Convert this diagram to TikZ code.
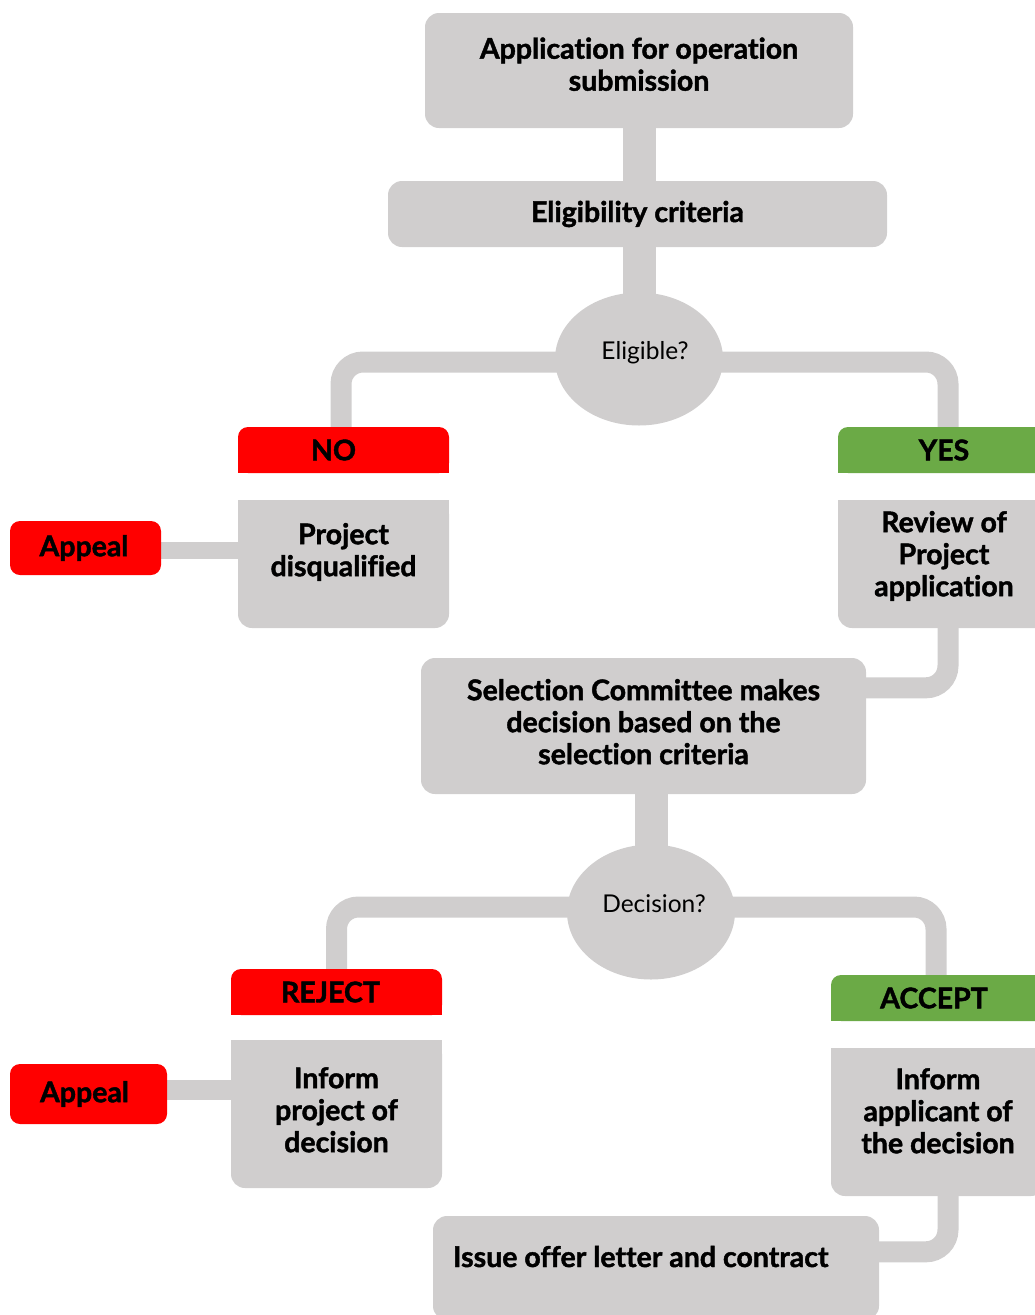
\documentclass[tikz,border=0pt]{standalone}
\usepackage{fontspec}
\setmainfont{Lato}[Ligatures=NoCommon, BoldFeatures={FakeBold=1.5}]
\usetikzlibrary{shapes.geometric,backgrounds}
\definecolor{boxgray}{HTML}{D0CECE}
\definecolor{redbox}{HTML}{FF0000}
\definecolor{greenbox}{HTML}{6BAA46}
\newcommand\boxlines[2]{\raisebox{#1}{\begin{tabular}[c]{@{}c@{}}#2\end{tabular}}}
\begin{document}
\begin{tikzpicture}[x=1pt,y=-1pt,
  flowbox/.style={fill=boxgray, rounded corners=14pt, inner sep=0pt, align=center,
    font=\fontsize{28.5}{32}\selectfont\bfseries},
  multi/.style={text height=0pt, text depth=0pt},
  tagbox/.style={flowbox, rounded corners=10pt},
  decision/.style={ellipse, fill=boxgray, inner sep=0pt, multi, font=\fontsize{24.5}{28}\selectfont},
  trunkline/.style={draw=boxgray, line width=33pt},
  branchline/.style={draw=boxgray, line width=21pt, rounded corners=22pt},
  appealline/.style={draw=boxgray, line width=17pt}]
\useasboundingbox (0,0) rectangle (1035,1315);

% nodes
\node[flowbox, multi, minimum width=428pt, minimum height=115pt] (app) at (639,70.5)
  {\boxlines{-4pt}{Application for operation\\submission}};
\node[flowbox, minimum width=499pt, minimum height=66pt] (elig) at (637.5,214) {Eligibility criteria};
\node[decision, minimum width=168pt, minimum height=133pt] (q1) at (639,359) {\hspace*{12pt}Eligible?};

\node[tagbox, fill=redbox, minimum width=211pt, minimum height=46pt] (no) at (343.5,450) {NO\hspace*{20pt}};
\node[flowbox, multi, minimum width=211pt, minimum height=128pt] (disq) at (343.5,564)
  {\boxlines{4pt}{Project\\disqualified}};
\node[tagbox, fill=redbox, minimum width=151pt, minimum height=54pt] (ap1) at (85.5,548) {Appeal\hspace*{3pt}};

\node[tagbox, fill=greenbox, minimum width=212pt, minimum height=46pt] (yes) at (944,450) {YES};
\node[flowbox, multi, minimum width=212pt, minimum height=128pt] (rev) at (944,564)
  {\boxlines{0pt}{Review of\\Project\\application}};

\node[flowbox, multi, minimum width=445pt, minimum height=136pt] (sel) at (643.5,726)
  {\boxlines{-6pt}{Selection Committee makes\\decision based on the\\selection criteria}};
\node[decision, minimum width=168pt, minimum height=135pt] (q2) at (651,912) {\hspace*{6pt}Decision?};

\node[tagbox, fill=redbox, minimum width=211pt, minimum height=46pt] (rej) at (336.5,992) {REJECT\hspace*{12pt}};
\node[flowbox, multi, minimum width=211pt, minimum height=148pt] (infop) at (336.5,1114)
  {\boxlines{-6pt}{Inform\\project of\\decision}};
\node[tagbox, fill=redbox, minimum width=157pt, minimum height=60pt] (ap2) at (88.5,1094) {Appeal\hspace*{8pt}};

\node[tagbox, fill=greenbox, minimum width=214pt, minimum height=46pt] (acc) at (938,998) {ACCEPT\hspace*{8pt}};
\node[flowbox, multi, minimum width=214pt, minimum height=148pt] (infoa) at (938,1122)
  {\boxlines{1pt}{Inform\\applicant of\\the decision}};

\node[flowbox, multi, minimum width=446pt, minimum height=104pt] (issue) at (656,1268)
  {\makebox[406pt][l]{\raisebox{1pt}{Issue offer letter and contract}}};

% connectors and square corners behind
\begin{scope}[on background layer]
  \draw[trunkline] (app.center) -- (app.center |- elig.center);
  \draw[trunkline] (q1.center) -- (q1.center |- elig.center);
  \draw[branchline] ([yshift=-3pt]q1.center) -| ([xshift=-2.5pt]no.north);
  \draw[branchline] ([yshift=-3pt]q1.center) -| ([xshift=4pt]yes.north);
  \draw[appealline] ([yshift=-2pt]ap1.center) -- ([yshift=-2pt]ap1.center -| disq.center);
  \draw[branchline] ([xshift=4pt]rev.center) |- ([yshift=-30pt]sel.north);
  \draw[trunkline] (q2.center) -- (q2.center |- sel.center);
  \draw[branchline] ([yshift=5pt]q2.center) -| (rej.north);
  \draw[branchline] ([yshift=5pt]q2.center) -| ([xshift=-2pt]acc.north);
  \draw[appealline, line width=20pt] ([yshift=4pt]ap2.center) -- ([yshift=4pt]ap2.center -| infop.center);
  \draw[branchline] ([xshift=10pt]infoa.center) |- ([yshift=-36pt]issue.north);
  % square corners
  \fill[redbox] (no.west) rectangle (no.south east);
  \fill[redbox] (rej.west) rectangle (rej.south east);
  \fill[greenbox] (yes.west) rectangle (yes.south east);
  \fill[greenbox] (acc.west) rectangle (acc.south east);
  \fill[boxgray] (disq.north west) rectangle (disq.east);
  \fill[boxgray] (rev.north west) rectangle (rev.east);
  \fill[boxgray] (infop.north west) rectangle (infop.east);
  \fill[boxgray] (infoa.north west) rectangle (infoa.east);
\end{scope}
\end{tikzpicture}
\end{document}
